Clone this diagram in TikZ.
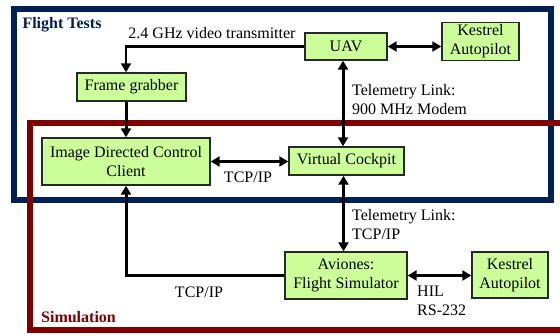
\documentclass[tikz,border=0pt]{standalone}
\usepackage{fontspec}
\setmainfont{Liberation Serif}
\usetikzlibrary{arrows.meta}
\definecolor{boxgreen}{RGB}{204,255,153}
\definecolor{navyframe}{RGB}{0,32,84}
\definecolor{redframe}{RGB}{128,0,0}
\definecolor{boxedge}{RGB}{40,40,40}
\begin{document}
\begin{tikzpicture}[x=1pt,y=-1pt,
  font=\fontsize{16}{19}\selectfont,
  blk/.style={draw=boxedge,line width=1.4pt,fill=boxgreen,inner sep=0pt,align=center},
  link/.style={line width=3pt,-{Triangle[length=9pt,width=10pt]}},
  dlink/.style={line width=3pt,{Triangle[length=9pt,width=10pt]}-{Triangle[length=9pt,width=10pt]}},
  lbl/.style={inner sep=0pt,align=left},
  frametitle/.style={inner sep=0pt,font=\fontsize{16}{19}\selectfont\bfseries}]
\useasboundingbox (0,0) rectangle (560,335);
\fill[white] (0,0) rectangle (560,335);
% frames
\draw[navyframe,line width=6pt] (14,9) rectangle (551,200);
\draw[redframe,line width=6pt] (575,123) -- (29.5,123) -- (29.5,330) -- (575,330);
\node[frametitle,text=navyframe] (ft) at (62,25) {Flight Tests};
\node[frametitle,text=redframe] (sim) at (78.5,317) {Simulation};
% boxes
\node[blk,minimum width=82pt,minimum height=27pt] (uav) at (346,46.5) {UAV};
\node[blk,minimum width=77pt,minimum height=38pt] (k1) at (480.5,41.5) {Kestrel\\Autopilot};
\node[blk,minimum width=109pt,minimum height=28pt] (fg) at (131.5,87) {Frame grabber};
\node[blk,minimum width=168pt,minimum height=47pt] (idc) at (126,161.5) {Image Directed Control\\Client};
\node[blk,minimum width=115pt,minimum height=28pt] (vc) at (346.5,161) {Virtual Cockpit};
\node[blk,minimum width=122pt,minimum height=47pt] (av) at (346,275.5) {Aviones:\\Flight Simulator};
\node[blk,minimum width=76pt,minimum height=46pt] (k2) at (510,275) {Kestrel\\Autopilot};
% labels
\node[lbl] (lvideo) at (212,33) {2.4 GHz video transmitter};
\node[lbl,anchor=west] (ltel1) at (352,100) {Telemetry Link:\\900 MHz Modem};
\node[lbl] (ltcp1) at (248,177) {TCP/IP};
\node[lbl,anchor=west] (ltel2) at (352,224.5) {Telemetry Link:\\TCP/IP};
\node[lbl] (ltcp2) at (199,292) {TCP/IP};
\node[lbl,anchor=west] (lhil) at (417,301) {HIL\\RS-232};
% connectors
\draw[dlink] (uav.east) -- (uav.east -| k1.west);
\draw[dlink] ([xshift=-3pt]uav.south) -- ([xshift=-3pt]uav.south |- vc.north);
\draw[link,line width=2.5pt] (uav.west) -| (idc.north |- fg.north);
\draw[link] (idc.north |- fg.south) -- (idc.north);
\draw[dlink] (idc.east) -- (idc.east -| vc.west);
\draw[dlink] ([xshift=-3pt]vc.south) -- ([xshift=-3pt]vc.south |- av.north);
\draw[link] (av.west) -| (idc.south);
\draw[dlink] (av.east) -- (av.east -| k2.west);
\end{tikzpicture}
\end{document}
